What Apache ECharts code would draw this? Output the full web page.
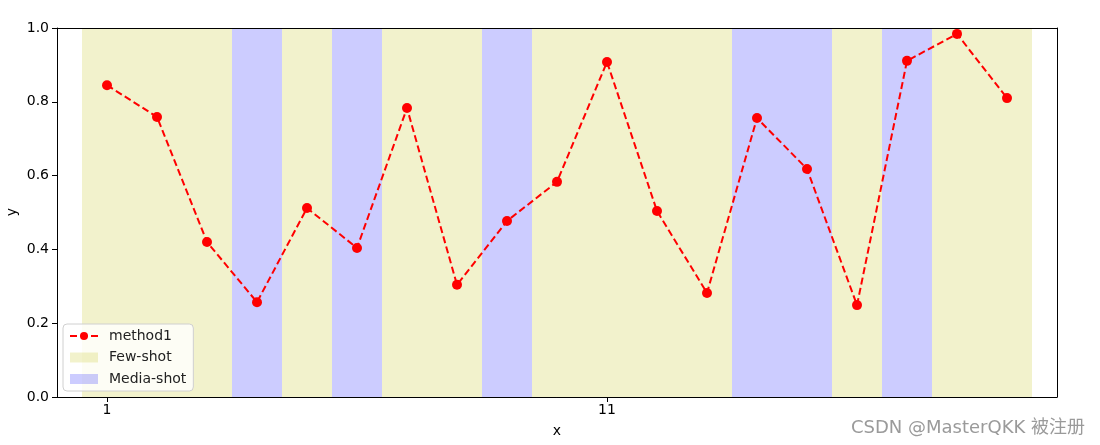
<!DOCTYPE html>
<html>
<head>
<meta charset="utf-8">
<script src="https://cdn.jsdelivr.net/npm/echarts@6/dist/echarts.min.js"></script>
<style>html,body{margin:0;padding:0;background:#fff}#c{width:1100px;height:445px}</style>
</head>
<body>
<div id="c"></div>
<script>
var xValues = [1,2,3,4,5,6,7,8,9,10,11,12,13,14,15,16,17,18,19];
var yValues = [0.845,0.759,0.420,0.257,0.512,0.404,0.783,0.304,0.477,0.583,0.908,0.504,0.282,0.756,0.618,0.249,0.911,0.984,0.810];
var shotType = ['F','F','F','M','F','M','F','F','M','F','F','F','F','M','M','F','M','F','F'];
var xTickValues = [1, 11];
var yTickValues = [0, 0.2, 0.4, 0.6, 0.8, 1.0];

function runs(type) {
  var areas = [];
  var i = 0;
  while (i < shotType.length) {
    if (shotType[i] === type) {
      var j = i;
      while (j + 1 < shotType.length && shotType[j + 1] === type) j++;
      areas.push([{xAxis: xValues[i] - 0.5, yAxis: 0}, {xAxis: xValues[j] + 0.5, yAxis: 1}]);
      i = j + 1;
    } else i++;
  }
  return areas;
}

var chart = echarts.init(document.getElementById('c'), null, {renderer: 'canvas'});
var font = 'DejaVu Sans';
chart.setOption({
  animation: false,
  textStyle: {fontFamily: font},
  grid: {left: 57, right: 43, top: 28, bottom: 48, containLabel: false, outerBoundsMode: 'none'},
  legend: {
    orient: 'vertical', left: 63, bottom: 54,
    backgroundColor: 'rgba(255,255,255,0.8)', borderColor: '#d0d0d0', borderWidth: 1, borderRadius: 4,
    padding: [5, 7, 5, 6], itemGap: 7.5, itemWidth: 28, itemHeight: 10,
    textStyle: {fontFamily: font, fontSize: 14, color: '#222', padding: [0, 0, 0, 6]},
    data: [
      {name: 'method1'},
      {name: 'Few-shot', icon: 'rect', itemStyle: {color: 'rgba(191,191,0,0.2)'}},
      {name: 'Media-shot', icon: 'rect', itemStyle: {color: 'rgba(0,0,255,0.2)'}}
    ]
  },
  xAxis: [{
    type: 'value', min: 0, max: 20, z: 10,
    name: 'x', nameLocation: 'middle', nameGap: 27, nameMoveOverlap: false,
    nameTextStyle: {fontFamily: font, fontSize: 14, color: '#000'},
    axisLine: {show: true, onZero: false, lineStyle: {color: '#000', width: 1}},
    axisTick: {show: true, length: 5, lineStyle: {color: '#000'}, customValues: xTickValues},
    axisLabel: {fontFamily: font, fontSize: 14, color: '#000', margin: 6, customValues: xTickValues},
    splitLine: {show: false}
  }, {
    type: 'value', min: 0, max: 20, position: 'top', z: 10,
    axisLine: {show: true, onZero: false, lineStyle: {color: '#000', width: 1}},
    axisTick: {show: false}, axisLabel: {show: false}, splitLine: {show: false}
  }],
  yAxis: [{
    type: 'value', min: 0, max: 1, interval: 0.2, z: 10,
    axisLine: {show: true, onZero: false, lineStyle: {color: '#000', width: 1}},
    axisTick: {show: true, length: 5, lineStyle: {color: '#000'}},
    axisLabel: {fontFamily: font, fontSize: 14, color: '#000', margin: 8,
      formatter: function (v) { return v.toFixed(1); }},
    splitLine: {show: false}
  }, {
    type: 'value', min: 0, max: 1, position: 'right', z: 10,
    axisLine: {show: true, onZero: false, lineStyle: {color: '#000', width: 1}},
    axisTick: {show: false}, axisLabel: {show: false}, splitLine: {show: false}
  }],
  series: [{
    name: 'Few-shot', type: 'line', data: [], z: 1,
    itemStyle: {color: 'rgba(191,191,0,0.2)'},
    markArea: {silent: true, itemStyle: {color: 'rgb(242,242,204)'}, data: runs('F')}
  }, {
    name: 'Media-shot', type: 'line', data: [], z: 1,
    itemStyle: {color: 'rgba(0,0,255,0.2)'},
    markArea: {silent: true, itemStyle: {color: 'rgb(204,204,255)'}, data: runs('M')}
  }, {
    name: 'method1', type: 'line', z: 5,
    data: xValues.map(function (x, i) { return [x, yValues[i]]; }),
    symbol: 'circle', symbolSize: 10, showSymbol: true,
    lineStyle: {color: '#ff0000', width: 2, type: [7, 3.5]},
    itemStyle: {color: '#ff0000'}
  }],
  graphic: [{
    type: 'text', x: 12, y: 212, rotation: Math.PI / 2,
    style: {text: 'y', fontFamily: font, fontSize: 14, fill: '#000', align: 'center', verticalAlign: 'middle'}
  }, {
    type: 'text', right: 15, bottom: 8,
    style: {text: 'CSDN @MasterQKK 被注册', fontFamily: 'DejaVu Sans, Noto Sans CJK SC', fontSize: 18, fill: '#9a9a9a'}
  }]
});
</script>
</body>
</html>
